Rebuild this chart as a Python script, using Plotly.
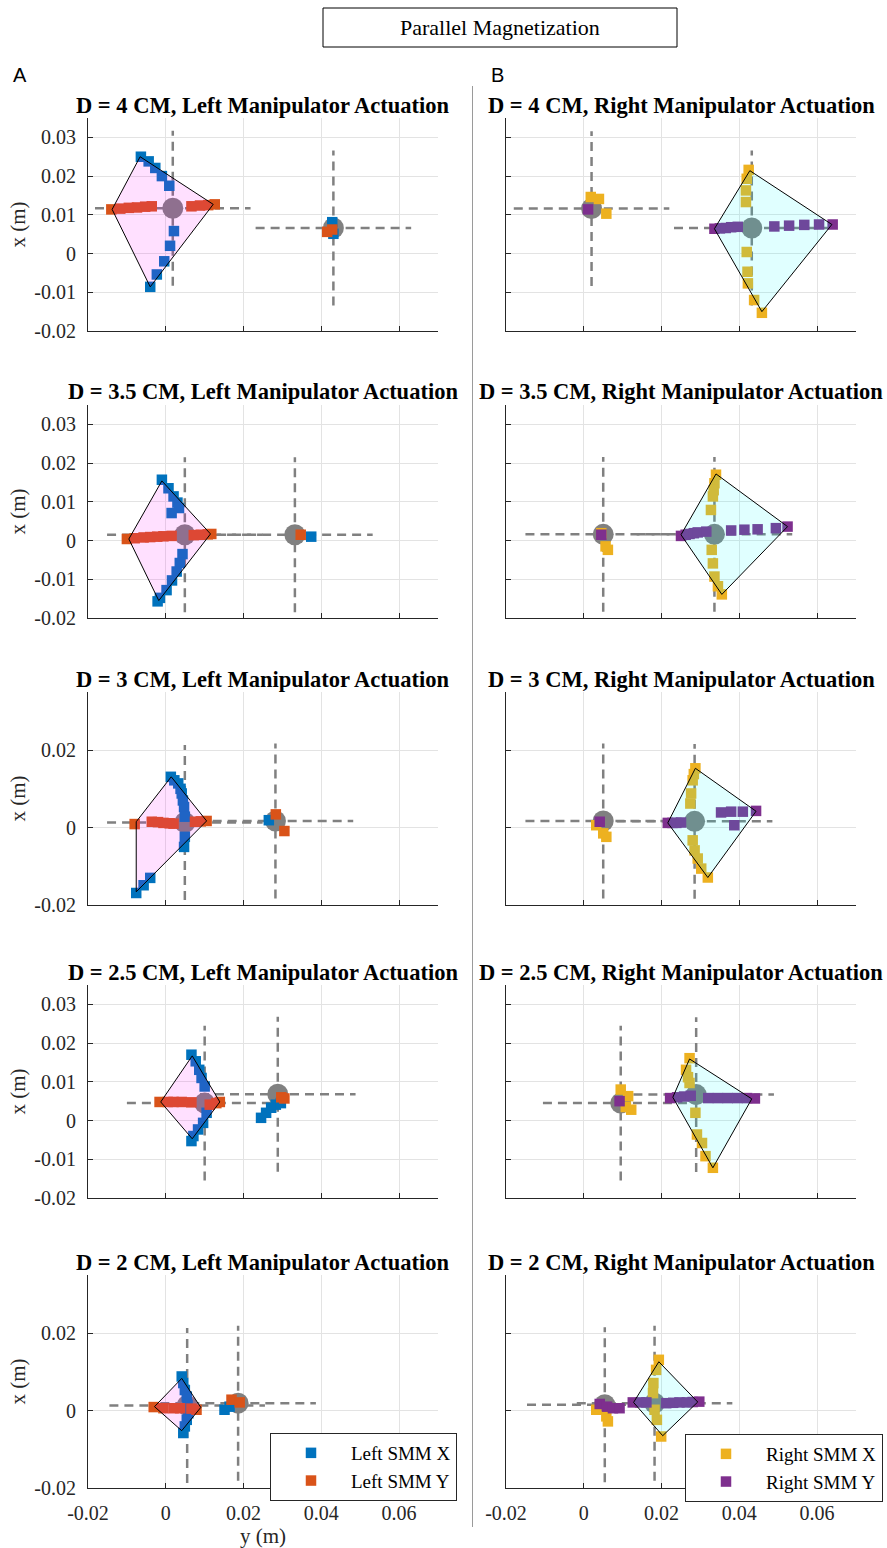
import plotly.graph_objects as go

# ---------------- data (horizontal = "y (m)", vertical = "x (m)") ----------------
ROW_TITLES_D = ["4", "3.5", "3", "2.5", "2"]
X_TICKS = [-0.02, 0, 0.02, 0.04, 0.06]
X_TICK_LABELS = ["-0.02", "0", "0.02", "0.04", "0.06"]
Y_TICKS_FINE = [-0.02, -0.01, 0, 0.01, 0.02, 0.03]
Y_TICK_LABELS_FINE = ["-0.02", "-0.01", "0", "0.01", "0.02", "0.03"]
Y_TICKS_COARSE = [-0.02, 0, 0.02]
Y_TICK_LABELS_COARSE = ["-0.02", "0", "0.02"]
CROSS_HALF = 0.02

# D = 4 cm, left actuation
P1L_sx_h = [-0.0064, -0.0044, -0.0027, -0.0010, 0.0009, 0.0021, 0.0011, -0.0004, -0.0023, -0.0040, 0.0428, 0.0431]
P1L_sx_v = [0.0250, 0.0238, 0.0221, 0.0200, 0.0175, 0.0058, 0.0020, -0.0020, -0.0054, -0.0086, 0.0081, 0.0051]
P1L_sy_h = [-0.0140, -0.0117, -0.0095, -0.0074, -0.0053, -0.0036, 0.0066, 0.0088, 0.0109, 0.0126, 0.0415, 0.0428]
P1L_sy_v = [0.0114, 0.0116, 0.0118, 0.0119, 0.0121, 0.0122, 0.0122, 0.0124, 0.0125, 0.0127, 0.0056, 0.0062]
P1L_poly_h = [-0.0066, 0.0122, -0.0040, -0.0138]
P1L_poly_v = [0.0250, 0.0127, -0.0086, 0.0114]
P1L_rest_h = [0.0018, 0.0431]
P1L_rest_v = [0.0117, 0.0066]

# D = 4 cm, right actuation
P1R_sx_h = [0.0424, 0.0419, 0.0417, 0.0417, 0.0419, 0.0421, 0.0422, 0.0438, 0.0458, 0.0018, 0.0039, 0.0058]
P1R_sx_v = [0.0216, 0.0193, 0.0163, 0.0133, 0.0004, -0.0047, -0.0077, -0.0120, -0.0153, 0.0146, 0.0141, 0.0103]
P1R_sy_h = [0.0336, 0.0350, 0.0365, 0.0379, 0.0396, 0.0490, 0.0528, 0.0567, 0.0605, 0.0640, 0.0011]
P1R_sy_v = [0.0064, 0.0065, 0.0066, 0.0068, 0.0069, 0.0070, 0.0072, 0.0074, 0.0075, 0.0075, 0.0114]
P1R_poly_h = [0.0427, 0.0638, 0.0458, 0.0336]
P1R_poly_v = [0.0214, 0.0075, -0.0150, 0.0064]
P1R_rest_h = [0.0020, 0.0432]
P1R_rest_v = [0.0116, 0.0066]

# D = 3.5 cm, left actuation
P2L_sx_h = [-0.0010, 0.0007, 0.0020, 0.0030, 0.0034, 0.0015, 0.0043, 0.0036, 0.0028, 0.0016, 0.0002, -0.0015, -0.0021, 0.0374]
P2L_sx_v = [0.0157, 0.0135, 0.0114, 0.0098, 0.0084, 0.0071, -0.0035, -0.0058, -0.0080, -0.0103, -0.0128, -0.0148, -0.0157, 0.0010]
P2L_sy_h = [-0.0100, -0.0080, -0.0057, -0.0040, -0.0022, -0.0006, 0.0015, 0.0072, 0.0090, 0.0108, 0.0117, 0.0347]
P2L_sy_v = [0.0004, 0.0006, 0.0008, 0.0009, 0.0010, 0.0011, 0.0012, 0.0014, 0.0015, 0.0016, 0.0017, 0.0015]
P2L_poly_h = [-0.0010, 0.0115, -0.0018, -0.0095]
P2L_poly_v = [0.0154, 0.0017, -0.0155, 0.0004]
P2L_rest_h = [0.0049, 0.0332]
P2L_rest_v = [0.0015, 0.0015]

# D = 3.5 cm, right actuation
P2R_sx_h = [0.0340, 0.0336, 0.0334, 0.0332, 0.0327, 0.0329, 0.0332, 0.0336, 0.0345, 0.0355, 0.0045, 0.0056, 0.0062]
P2R_sx_v = [0.0170, 0.0148, 0.0130, 0.0114, 0.0079, -0.0024, -0.0059, -0.0093, -0.0118, -0.0139, 0.0019, -0.0015, -0.0024]
P2R_sy_h = [0.0250, 0.0262, 0.0272, 0.0283, 0.0293, 0.0315, 0.0379, 0.0413, 0.0447, 0.0494, 0.0524, 0.0045]
P2R_sy_v = [0.0012, 0.0015, 0.0017, 0.0019, 0.0021, 0.0023, 0.0026, 0.0028, 0.0029, 0.0032, 0.0036, 0.0015]
P2R_poly_h = [0.0340, 0.0524, 0.0355, 0.0250]
P2R_poly_v = [0.0172, 0.0036, -0.0139, 0.0015]
P2R_rest_h = [0.0050, 0.0336]
P2R_rest_v = [0.0016, 0.0016]

# D = 3 cm, left actuation
P3L_sx_h = [0.0013, 0.0022, 0.0032, 0.0038, 0.0041, 0.0044, 0.0047, 0.0049, 0.0049, 0.0047, -0.0040, -0.0057, -0.0076, 0.0265]
P3L_sx_v = [0.0131, 0.0122, 0.0114, 0.0100, 0.0088, 0.0070, 0.0053, 0.0028, -0.0024, -0.0050, -0.0130, -0.0149, -0.0169, 0.0019]
P3L_sy_h = [-0.0080, -0.0036, -0.0020, -0.0006, 0.0010, 0.0020, 0.0075, 0.0090, 0.0105, 0.0283, 0.0305]
P3L_sy_v = [0.0009, 0.0015, 0.0014, 0.0012, 0.0011, 0.0010, 0.0015, 0.0016, 0.0017, 0.0034, -0.0009]
P3L_poly_h = [0.0014, 0.0105, -0.0076, -0.0076]
P3L_poly_v = [0.0131, 0.0017, -0.0166, 0.0015]
P3L_rest_h = [0.0049, 0.0282]
P3L_rest_v = [0.0013, 0.0017]

# D = 3 cm, right actuation
P3R_sx_h = [0.0287, 0.0283, 0.0280, 0.0276, 0.0274, 0.0280, 0.0285, 0.0293, 0.0302, 0.0319, 0.0032, 0.0050, 0.0058]
P3R_sx_v = [0.0153, 0.0138, 0.0122, 0.0088, 0.0062, -0.0033, -0.0059, -0.0080, -0.0106, -0.0129, 0.0006, -0.0015, -0.0024]
P3R_sy_h = [0.0216, 0.0228, 0.0238, 0.0250, 0.0353, 0.0379, 0.0409, 0.0443, 0.0387, 0.0041]
P3R_sy_v = [0.0012, 0.0012, 0.0012, 0.0013, 0.0039, 0.0041, 0.0041, 0.0043, 0.0006, 0.0015]
P3R_poly_h = [0.0287, 0.0443, 0.0319, 0.0216]
P3R_poly_v = [0.0153, 0.0042, -0.0129, 0.0012]
P3R_rest_h = [0.0050, 0.0285]
P3R_rest_v = [0.0017, 0.0016]

# D = 2.5 cm, left actuation
P4L_sx_h = [0.0066, 0.0077, 0.0086, 0.0092, 0.0100, 0.0105, 0.0096, 0.0083, 0.0071, 0.0066, 0.0245, 0.0258, 0.0271, 0.0283, 0.0296]
P4L_sx_v = [0.0170, 0.0153, 0.0131, 0.0110, 0.0088, 0.0020, -0.0006, -0.0023, -0.0040, -0.0053, 0.0007, 0.0020, 0.0033, 0.0041, 0.0045]
P4L_sy_h = [-0.0016, 0.0005, 0.0020, 0.0041, 0.0066, 0.0113, 0.0130, 0.0139, 0.0297, 0.0305]
P4L_sy_v = [0.0048, 0.0048, 0.0048, 0.0048, 0.0047, 0.0041, 0.0045, 0.0048, 0.0060, 0.0057]
P4L_poly_h = [0.0068, 0.0139, 0.0068, -0.0013]
P4L_poly_v = [0.0167, 0.0048, -0.0047, 0.0048]
P4L_rest_h = [0.0100, 0.0288]
P4L_rest_v = [0.0045, 0.0068]

# D = 2.5 cm, right actuation
P4R_sx_h = [0.0272, 0.0263, 0.0268, 0.0272, 0.0287, 0.0291, 0.0304, 0.0313, 0.0332, 0.0095, 0.0114, 0.0122, 0.0108]
P4R_sx_v = [0.0161, 0.0131, 0.0112, 0.0097, 0.0020, -0.0036, -0.0058, -0.0092, -0.0122, 0.0080, 0.0063, 0.0028, 0.0035]
P4R_sy_h = [0.0222, 0.0240, 0.0258, 0.0275, 0.0320, 0.0345, 0.0370, 0.0395, 0.0420, 0.0440, 0.0092]
P4R_sy_v = [0.0058, 0.0060, 0.0062, 0.0064, 0.0058, 0.0058, 0.0058, 0.0058, 0.0058, 0.0057, 0.0050]
P4R_poly_h = [0.0272, 0.0432, 0.0332, 0.0229]
P4R_poly_v = [0.0159, 0.0056, -0.0122, 0.0060]
P4R_rest_h = [0.0095, 0.0289]
P4R_rest_v = [0.0045, 0.0067]

# D = 2 cm, left actuation
P5L_sx_h = [0.0041, 0.0045, 0.0049, 0.0054, 0.0056, 0.0058, 0.0054, 0.0049, 0.0045, 0.0151, 0.0164]
P5L_sx_v = [0.0088, 0.0071, 0.0053, 0.0036, 0.0015, -0.0007, -0.0024, -0.0041, -0.0058, 0.0002, 0.0010]
P5L_sy_h = [-0.0031, -0.0006, 0.0020, 0.0037, 0.0066, 0.0079, 0.0169, 0.0190]
P5L_sy_v = [0.0009, 0.0006, 0.0006, 0.0006, 0.0005, 0.0002, 0.0028, 0.0021]
P5L_poly_h = [0.0041, 0.0090, 0.0041, -0.0029]
P5L_poly_v = [0.0083, 0.0008, -0.0052, 0.0010]
P5L_rest_h = [0.0055, 0.0186]
P5L_rest_v = [0.0013, 0.0019]

# D = 2 cm, right actuation
P5R_sx_h = [0.0193, 0.0186, 0.0179, 0.0178, 0.0182, 0.0188, 0.0199, 0.0032, 0.0058, 0.0062]
P5R_sx_v = [0.0131, 0.0105, 0.0071, 0.0045, 0.0002, -0.0024, -0.0067, 0.0002, -0.0015, -0.0028]
P5R_sy_h = [0.0126, 0.0145, 0.0161, 0.0212, 0.0230, 0.0246, 0.0265, 0.0280, 0.0297, 0.0041, 0.0060, 0.0075, 0.0092]
P5R_sy_v = [0.0021, 0.0021, 0.0021, 0.0019, 0.0020, 0.0021, 0.0021, 0.0022, 0.0023, 0.0017, 0.0010, 0.0006, 0.0006]
P5R_poly_h = [0.0193, 0.0293, 0.0203, 0.0128]
P5R_poly_v = [0.0126, 0.0022, -0.0065, 0.0021]
P5R_rest_h = [0.0054, 0.0182]
P5R_rest_v = [0.0015, 0.0019]

LEFT_NAMES = ["Left SMM X", "Left SMM Y"]
RIGHT_NAMES = ["Right SMM X", "Right SMM Y"]

panels = [
    (P1L_sx_h, P1L_sx_v, P1L_sy_h, P1L_sy_v, P1L_poly_h, P1L_poly_v, P1L_rest_h, P1L_rest_v),
    (P1R_sx_h, P1R_sx_v, P1R_sy_h, P1R_sy_v, P1R_poly_h, P1R_poly_v, P1R_rest_h, P1R_rest_v),
    (P2L_sx_h, P2L_sx_v, P2L_sy_h, P2L_sy_v, P2L_poly_h, P2L_poly_v, P2L_rest_h, P2L_rest_v),
    (P2R_sx_h, P2R_sx_v, P2R_sy_h, P2R_sy_v, P2R_poly_h, P2R_poly_v, P2R_rest_h, P2R_rest_v),
    (P3L_sx_h, P3L_sx_v, P3L_sy_h, P3L_sy_v, P3L_poly_h, P3L_poly_v, P3L_rest_h, P3L_rest_v),
    (P3R_sx_h, P3R_sx_v, P3R_sy_h, P3R_sy_v, P3R_poly_h, P3R_poly_v, P3R_rest_h, P3R_rest_v),
    (P4L_sx_h, P4L_sx_v, P4L_sy_h, P4L_sy_v, P4L_poly_h, P4L_poly_v, P4L_rest_h, P4L_rest_v),
    (P4R_sx_h, P4R_sx_v, P4R_sy_h, P4R_sy_v, P4R_poly_h, P4R_poly_v, P4R_rest_h, P4R_rest_v),
    (P5L_sx_h, P5L_sx_v, P5L_sy_h, P5L_sy_v, P5L_poly_h, P5L_poly_v, P5L_rest_h, P5L_rest_v),
    (P5R_sx_h, P5R_sx_v, P5R_sy_h, P5R_sy_v, P5R_poly_h, P5R_poly_v, P5R_rest_h, P5R_rest_v),
]
ROW_FINE_TICKS = [True, True, False, True, False]

# ---------------- styling / layout ----------------
W, H = 887, 1548
ROW_TOPS = [118, 405, 692, 985, 1275]
PANEL_H = 213
COLS = [(88, 438), (506, 856)]
SERIF = "Liberation Serif"
SANS = "Liberation Sans"
AX_COL = "#262626"
GRID_COL = "#e3e3e3"
COLORS_L = ["#0072BD", "#D95319"]
COLORS_R = ["#EDB120", "#7E2F8E"]
FILL_L = "rgba(255,0,255,0.12)"
FILL_R = "rgba(0,255,255,0.12)"


def fx(p):
    return p / W


def fy(p):
    return 1 - p / H


fig = go.Figure()
layout = dict(
    template="none",
    width=W, height=H, autosize=False,
    margin=dict(l=0, r=0, t=0, b=0, pad=0, autoexpand=False),
    paper_bgcolor="white", plot_bgcolor="white",
    showlegend=True,
)
annotations = []
shapes = []

for i, pdata in enumerate(panels):
    sx_h, sx_v, sy_h, sy_v, poly_h, poly_v, rest_h, rest_v = pdata
    r, c = divmod(i, 2)
    n = i + 1
    xa = "x" if n == 1 else f"x{n}"
    ya = "y" if n == 1 else f"y{n}"
    x0, x1 = COLS[c]
    top = ROW_TOPS[r]
    bot = top + PANEL_H
    last_row = r == 4
    names = LEFT_NAMES if c == 0 else RIGHT_NAMES
    cols = COLORS_L if c == 0 else COLORS_R
    fill = FILL_L if c == 0 else FILL_R
    legend_id = "legend" if c == 0 else "legend2"

    # dashed crosses around the rest positions
    for ch, cv in zip(rest_h, rest_v):
        fig.add_trace(go.Scatter(
            x=[ch - CROSS_HALF, ch + CROSS_HALF, None, ch, ch],
            y=[cv, cv, None, cv - CROSS_HALF, cv + CROSS_HALF],
            mode="lines", line=dict(color="#808080", width=2.5, dash="9px,6px"),
            xaxis=xa, yaxis=ya, showlegend=False, hoverinfo="skip"))
    # rest-position circles
    fig.add_trace(go.Scatter(
        x=rest_h, y=rest_v, mode="markers",
        marker=dict(symbol="circle", size=21, color="#808080", line=dict(width=0)),
        xaxis=xa, yaxis=ya, showlegend=False, hoverinfo="skip"))
    # SMM X / SMM Y markers
    for k, (hh, vv) in enumerate([(sx_h, sx_v), (sy_h, sy_v)]):
        fig.add_trace(go.Scatter(
            x=hh, y=vv, mode="markers", name=names[k],
            marker=dict(symbol="square", size=10.5, color=cols[k], line=dict(width=0)),
            xaxis=xa, yaxis=ya, showlegend=last_row, legend=legend_id))
    # workspace polygon
    fig.add_trace(go.Scatter(
        x=list(poly_h) + [poly_h[0]], y=list(poly_v) + [poly_v[0]],
        mode="lines", fill="toself", fillcolor=fill,
        line=dict(color="black", width=1),
        xaxis=xa, yaxis=ya, showlegend=False, hoverinfo="skip"))

    yt = Y_TICKS_FINE if ROW_FINE_TICKS[r] else Y_TICKS_COARSE
    ytl = Y_TICK_LABELS_FINE if ROW_FINE_TICKS[r] else Y_TICK_LABELS_COARSE
    common = dict(
        showline=True, linecolor=AX_COL, linewidth=1, mirror=False,
        ticks="inside", ticklen=5, tickcolor=AX_COL, tickwidth=1,
        showgrid=True, gridcolor=GRID_COL, gridwidth=1, zeroline=False,
        tickfont=dict(family=SERIF, size=20, color=AX_COL),
        fixedrange=True, automargin=False,
    )
    xaxis = dict(common, domain=[fx(x0), fx(x1)], range=[-0.02, 0.07],
                 anchor=ya, tickmode="array", tickvals=X_TICKS, ticktext=X_TICK_LABELS,
                 showticklabels=last_row, ticklabelstandoff=7)
    if last_row and c == 0:
        xaxis["title"] = dict(text="y (m)", font=dict(family=SERIF, size=21, color=AX_COL), standoff=2)
    yaxis = dict(common, domain=[fy(bot), fy(top)], range=[-0.02, 0.035],
                 anchor=xa, tickmode="array", tickvals=yt, ticktext=ytl,
                 showticklabels=(c == 0), ticklabelstandoff=7)
    if c == 0:
        yaxis["title"] = dict(text="x (m)", font=dict(family=SERIF, size=21, color=AX_COL), standoff=2)
    layout["xaxis" if n == 1 else f"xaxis{n}"] = xaxis
    layout["yaxis" if n == 1 else f"yaxis{n}"] = yaxis

    side = "Left" if c == 0 else "Right"
    annotations.append(dict(
        text=f"<b>D = {ROW_TITLES_D[r]} CM, {side} Manipulator Actuation</b>",
        x=fx((x0 + x1) / 2), y=fy(top - 13), xref="paper", yref="paper",
        xanchor="center", yanchor="middle", showarrow=False,
        font=dict(family=SERIF, size=22.5, color="black")))

# header box and panel labels
shapes.append(dict(type="rect", xref="paper", yref="paper",
                   x0=fx(323), x1=fx(677), y0=fy(47), y1=fy(8),
                   line=dict(color="black", width=1), fillcolor="white"))
annotations.append(dict(text="Parallel Magnetization", x=fx(500), y=fy(28), xref="paper", yref="paper",
                        xanchor="center", yanchor="middle", showarrow=False,
                        font=dict(family=SERIF, size=22, color="black")))
annotations.append(dict(text="A", x=fx(11), y=fy(75), xref="paper", yref="paper",
                        xanchor="left", yanchor="middle", showarrow=False,
                        font=dict(family=SANS, size=20, color="black")))
annotations.append(dict(text="B", x=fx(489), y=fy(75), xref="paper", yref="paper",
                        xanchor="left", yanchor="middle", showarrow=False,
                        font=dict(family=SANS, size=20, color="black")))
shapes.append(dict(type="line", xref="paper", yref="paper",
                   x0=fx(472.5), x1=fx(472.5), y0=fy(1527), y1=fy(86),
                   line=dict(color="#9a9a9a", width=1)))

legend_common = dict(
    xanchor="left", yanchor="top", bgcolor="white",
    bordercolor=AX_COL, borderwidth=1,
    font=dict(family=SERIF, size=19, color="black"),
    tracegroupgap=0, itemwidth=70, itemclick=False, itemdoubleclick=False,
)
layout["legend"] = dict(legend_common, x=fx(270), y=fy(1433))
layout["legend2"] = dict(legend_common, x=fx(685), y=fy(1434))
layout["annotations"] = annotations
layout["shapes"] = shapes
fig.update_layout(**layout)

fig.write_html(
    "out.html",
    config={"displayModeBar": False, "responsive": False},
    post_script="document.body.style.margin='0';document.body.style.overflow='hidden';",
)
